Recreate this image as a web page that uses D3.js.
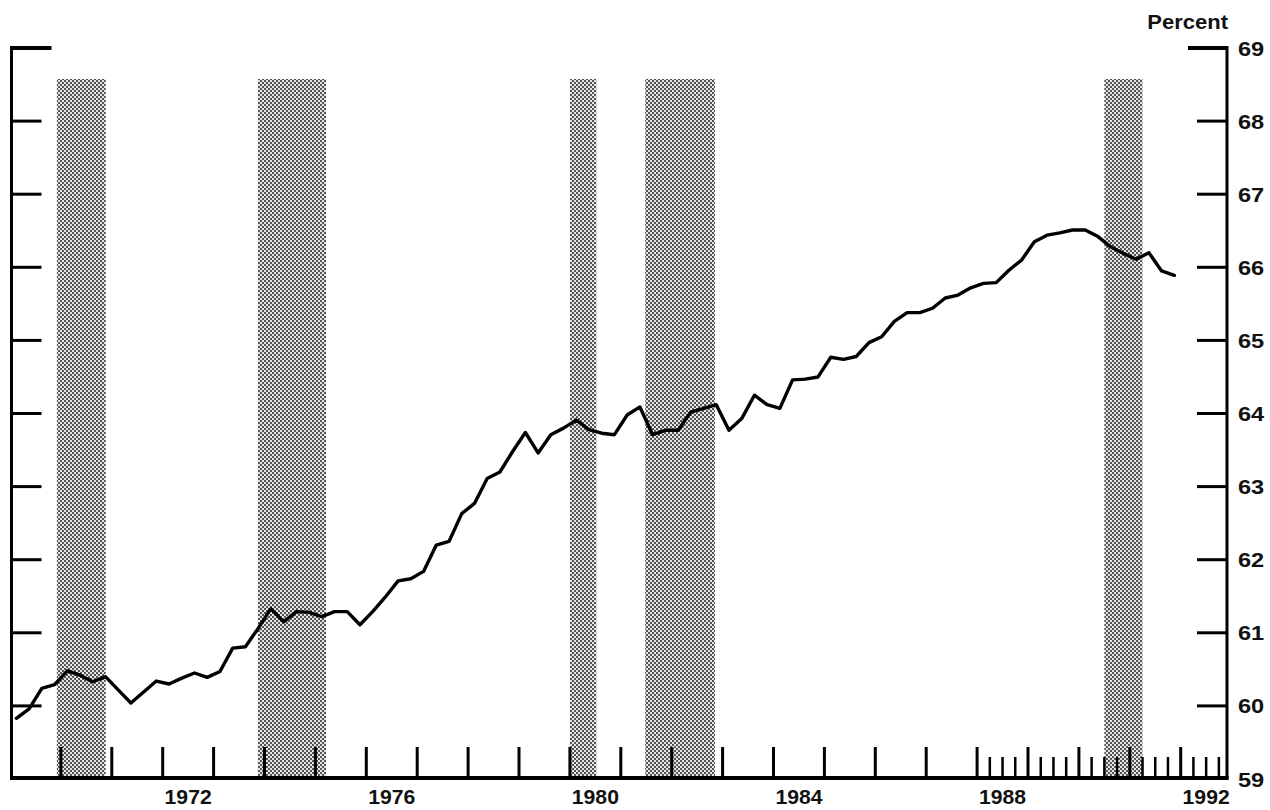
<!DOCTYPE html>
<html>
<head>
<meta charset="utf-8">
<script src="https://cdn.jsdelivr.net/npm/d3@7"></script>
<style>
  html, body { margin: 0; padding: 0; background: #fff; }
  svg { display: block; }
  text { font-family: "Liberation Sans", Arial, Helvetica, sans-serif; font-weight: bold; fill: #111; }
</style>
</head>
<body>
<svg id="chart" width="1270" height="810"></svg>
<script>
// ---- data (quarterly, 1969Q1 - 1991Q4), percent ----
const startYear = 1969;
const values = [
  59.83, 59.96, 60.24, 60.29,   // 1969
  60.48, 60.42, 60.33, 60.40,   // 1970
  60.22, 60.04, 60.19, 60.34,   // 1971
  60.30, 60.38, 60.45, 60.39,   // 1972
  60.47, 60.79, 60.81, 61.06,   // 1973
  61.33, 61.15, 61.29, 61.28,   // 1974
  61.22, 61.29, 61.29, 61.11,   // 1975
  61.29, 61.49, 61.71, 61.74,   // 1976
  61.84, 62.20, 62.25, 62.63,   // 1977
  62.77, 63.11, 63.20, 63.48,   // 1978
  63.74, 63.46, 63.71, 63.80,   // 1979
  63.91, 63.78, 63.73, 63.71,   // 1980
  63.98, 64.09, 63.71, 63.77,   // 1981
  63.77, 64.02, 64.07, 64.12,   // 1982
  63.77, 63.93, 64.25, 64.12,   // 1983
  64.07, 64.46, 64.47, 64.50,   // 1984
  64.77, 64.74, 64.78, 64.97,   // 1985
  65.05, 65.26, 65.38, 65.38,   // 1986
  65.44, 65.58, 65.62, 65.72,   // 1987
  65.78, 65.79, 65.96, 66.10,   // 1988
  66.35, 66.44, 66.47, 66.51,   // 1989
  66.51, 66.42, 66.28, 66.19,   // 1990
  66.11, 66.20, 65.95, 65.89    // 1991
];
// recession periods (decimal years)
const recessionStart = [1969.92, 1973.87, 1980.00, 1981.48, 1990.50];
const recessionEnd   = [1970.88, 1975.21, 1980.52, 1982.85, 1991.25];
// axis labels
const yearLabels = [1972, 1976, 1980, 1984, 1988, 1992];
const yTicks = [59, 60, 61, 62, 63, 64, 65, 66, 67, 68, 69];
const majorTickYears = d3.range(1970, 1993);
const minorTickYears = d3.range(1988.25, 1992.8, 0.25).filter(t => t % 1 !== 0);
const unitLabel = "Percent";

// ---- layout ----
const svg = d3.select("#chart");
const x = d3.scaleLinear().domain([1969, 1993]).range([10, 1231.6]);
const y = d3.scaleLinear().domain([59, 69]).range([779, 48]);
const leftX = 11.5, rightX = 1227, bottomY = 778, bandTop = 79;

// halftone pattern for recession bands
const defs = svg.append("defs");
const pat = defs.append("pattern").attr("id", "dots")
  .attr("patternUnits", "userSpaceOnUse").attr("width", 4).attr("height", 4);
pat.append("rect").attr("width", 4).attr("height", 4).attr("fill", "#e6e6e6");
pat.append("rect").attr("x", 0).attr("y", 0).attr("width", 2).attr("height", 2).attr("fill", "#555");
pat.append("rect").attr("x", 2).attr("y", 2).attr("width", 2).attr("height", 2).attr("fill", "#555");

svg.append("g").selectAll("rect")
  .data(recessionStart.map((s, i) => [s, recessionEnd[i]]))
  .join("rect")
  .attr("x", d => x(d[0]))
  .attr("width", d => x(d[1]) - x(d[0]))
  .attr("y", bandTop)
  .attr("height", bottomY - bandTop)
  .attr("fill", "url(#dots)");

// frame
const frame = svg.append("g").attr("stroke", "#000").attr("fill", "none");
frame.append("line").attr("x1", leftX).attr("x2", leftX).attr("y1", y(69) - 2).attr("y2", bottomY + 2).attr("stroke-width", 3);
frame.append("line").attr("x1", rightX).attr("x2", rightX).attr("y1", y(69) - 2).attr("y2", bottomY + 2).attr("stroke-width", 3);
frame.append("line").attr("x1", 10).attr("x2", rightX + 1.5).attr("y1", bottomY).attr("y2", bottomY).attr("stroke-width", 4);

// y ticks left & right
yTicks.filter(v => v > 59).forEach(v => {
  const len = v === 69 ? 40 : 30;
  frame.append("line").attr("x1", leftX).attr("x2", leftX + len).attr("y1", y(v)).attr("y2", y(v)).attr("stroke-width", v === 69 ? 4 : 3);
  const rlen = v === 69 ? 39 : 30;
  frame.append("line").attr("x1", rightX - rlen).attr("x2", rightX).attr("y1", y(v)).attr("y2", y(v)).attr("stroke-width", v === 69 ? 4 : 3);
});

// x ticks
svg.append("g").attr("stroke", "#000").selectAll("line")
  .data(majorTickYears).join("line")
  .attr("x1", d => x(d)).attr("x2", d => x(d))
  .attr("y1", 747).attr("y2", bottomY).attr("stroke-width", 3);
svg.append("g").attr("stroke", "#000").selectAll("line")
  .data(minorTickYears).join("line")
  .attr("x1", d => x(d)).attr("x2", d => x(d))
  .attr("y1", 757).attr("y2", bottomY).attr("stroke-width", 2.5);

// right y labels
svg.append("g").selectAll("text")
  .data(yTicks).join("text")
  .attr("transform", d => `translate(1238,${y(d) + 7.5}) scale(1.15,1)`)
  .attr("font-size", 20.5)
  .text(d => d);

// year labels, centred within each year
svg.append("g").selectAll("text")
  .data(yearLabels).join("text")
  .attr("transform", d => `translate(${x(d + 0.5)},804) scale(1.06,1)`)
  .attr("text-anchor", "middle")
  .attr("font-size", 20)
  .text(d => d);

// unit label
svg.append("text")
  .attr("transform", "translate(1228,29) scale(1.1,1)")
  .attr("text-anchor", "end")
  .attr("font-size", 20)
  .text(unitLabel);

// data line
const line = d3.line()
  .x((d, i) => x(startYear + (i + 0.5) / 4))
  .y(d => y(d));
svg.append("path")
  .datum(values)
  .attr("d", line)
  .attr("fill", "none")
  .attr("stroke", "#000")
  .attr("stroke-width", 3.4)
  .attr("stroke-linejoin", "round")
  .attr("stroke-linecap", "round");
</script>
</body>
</html>
